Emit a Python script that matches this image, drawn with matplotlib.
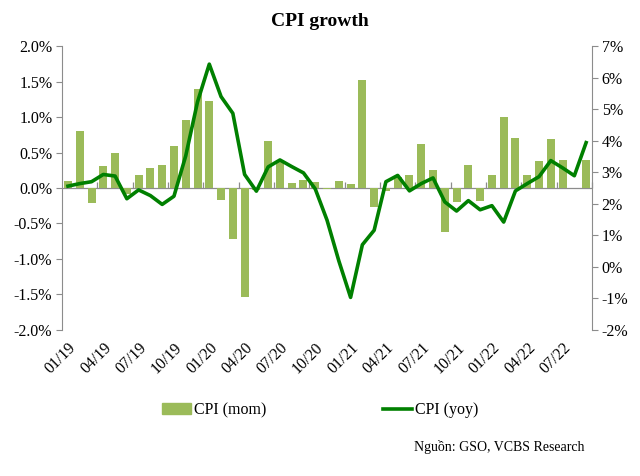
import numpy as np
import matplotlib
matplotlib.use("Agg")
import matplotlib.pyplot as plt
from matplotlib.ticker import FuncFormatter

plt.rcParams['font.family'] = ['Liberation Serif', 'DejaVu Serif']

# dữ liệu CPI theo tháng, 01/19 - 09/22
months = ['01/19', '02/19', '03/19', '04/19', '05/19', '06/19', '07/19', '08/19', '09/19',
          '10/19', '11/19', '12/19', '01/20', '02/20', '03/20', '04/20', '05/20', '06/20',
          '07/20', '08/20', '09/20', '10/20', '11/20', '12/20', '01/21', '02/21', '03/21',
          '04/21', '05/21', '06/21', '07/21', '08/21', '09/21', '10/21', '11/21', '12/21',
          '01/22', '02/22', '03/22', '04/22', '05/22', '06/22', '07/22', '08/22', '09/22']
cpi_mom = [0.10, 0.80, -0.21, 0.31, 0.49, -0.09, 0.18, 0.28, 0.32, 0.59, 0.96, 1.40,
           1.23, -0.17, -0.72, -1.54, -0.03, 0.66, 0.40, 0.07, 0.12, 0.09, -0.01, 0.10,
           0.06, 1.52, -0.27, -0.04, 0.16, 0.19, 0.62, 0.25, -0.62, -0.20, 0.32, -0.18,
           0.19, 1.00, 0.70, 0.18, 0.38, 0.69, 0.40, 0.005, 0.39]
cpi_yoy = [2.56, 2.64, 2.70, 2.93, 2.88, 2.16, 2.44, 2.26, 1.98, 2.24, 3.52, 5.23,
           6.43, 5.40, 4.87, 2.93, 2.40, 3.17, 3.39, 3.18, 2.98, 2.47, 1.48, 0.19,
           -0.97, 0.70, 1.16, 2.70, 2.90, 2.41, 2.64, 2.82, 2.06, 1.77, 2.10, 1.81,
           1.94, 1.42, 2.41, 2.64, 2.86, 3.37, 3.14, 2.89, 3.94]

bar_color = '#9BBB59'
line_color = '#008000'
axis_color = '#8c8c8c'

x = np.arange(len(months))

fig = plt.figure(figsize=(6.4, 4.76), dpi=100)
ax = fig.add_axes([0.097, 0.307, 0.828, 0.596])
ax.set_ylim(-2, 2)
ax.set_xlim(-0.5, len(months) - 0.5)

# trục ngang ở mức 0 (vẽ dưới cột)
ax.axhline(0, color=axis_color, lw=0.9, zorder=1)
zax = ax.secondary_xaxis(0.5)
zax.set_xticks(np.arange(2.5, len(months), 3))
zax.set_xticklabels([])
zax.tick_params(length=4, color=axis_color, direction='out', width=0.9)
for s in zax.spines.values():
    s.set_visible(False)
zax.set_zorder(1)

ax.bar(x, cpi_mom, width=0.68, color=bar_color, zorder=2)
ax.set_yticks(np.arange(-2, 2.01, 0.5))
ax.yaxis.set_major_formatter(FuncFormatter(lambda v, p: f'{v:.1f}%'))
ax.set_xticks(x[::3])
ax.set_xticklabels(months[::3], rotation=45, ha='right', rotation_mode='anchor')
ax.tick_params(axis='x', length=0, pad=7, labelsize=11.5)
ax.tick_params(axis='y', length=4, color=axis_color, labelsize=11.5, pad=3)
for s in ['top', 'right', 'bottom']:
    ax.spines[s].set_visible(False)
ax.spines['left'].set_color(axis_color)

ax2 = ax.twinx()
ax2.plot(x, cpi_yoy, color=line_color, lw=2.6, zorder=3)
ax2.set_ylim(-2, 7)
ax2.set_yticks(np.arange(-2, 8, 1))
ax2.yaxis.set_major_formatter(FuncFormatter(lambda v, p: f'{v:.0f}%'))
ax2.tick_params(axis='y', length=4, color=axis_color, labelsize=11.5, pad=3)
for s in ['top', 'left', 'bottom']:
    ax2.spines[s].set_visible(False)
ax2.spines['right'].set_color(axis_color)

fig.text(0.5, 0.955, 'CPI growth', ha='center', va='center', fontsize=14, fontweight='bold')

h1 = plt.Rectangle((0, 0), 1, 1, color=bar_color)
h2 = plt.Line2D([0], [0], color=line_color, lw=2.6)
fig.legend([h1, h2], ['CPI (mom)', 'CPI (yoy)'], loc='center', bbox_to_anchor=(0.5, 0.138),
           ncol=2, frameon=False, fontsize=11.5, handlelength=1.8, handletextpad=0.2,
           columnspacing=7.3)

fig.text(0.914, 0.061, 'Nguồn: GSO, VCBS Research', ha='right', va='center', fontsize=10)

fig.savefig('out.png', dpi=100)
